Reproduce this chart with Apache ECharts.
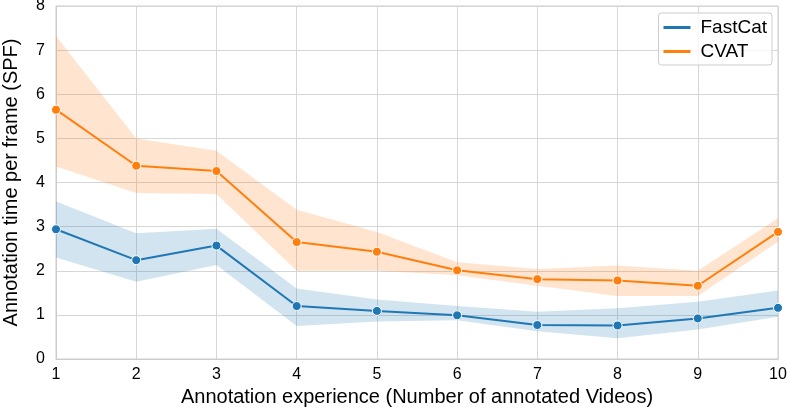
<!DOCTYPE html>
<html>
<head>
<meta charset="utf-8">
<script src="https://cdn.jsdelivr.net/npm/echarts@6/dist/echarts.min.js"></script>
<style>
html,body{margin:0;padding:0;background:#fff;}
#chart{width:787px;height:416px;}
</style>
</head>
<body>
<div id="chart"></div>
<script>
const categories = ['1','2','3','4','5','6','7','8','9','10'];
const yTicks = [0,1,2,3,4,5,6,7,8];

const fastCatMean = [2.94, 2.24, 2.57, 1.20, 1.09, 0.99, 0.77, 0.76, 0.92, 1.16];
const fastCatLow  = [2.30, 1.75, 2.13, 0.75, 0.85, 0.88, 0.63, 0.47, 0.67, 0.96];
const fastCatHigh = [3.57, 2.85, 2.95, 1.60, 1.35, 1.20, 1.07, 1.15, 1.30, 1.55];

const cvatMean = [5.65, 4.38, 4.26, 2.65, 2.43, 2.01, 1.81, 1.78, 1.66, 2.88];
const cvatLow  = [4.36, 3.76, 3.74, 2.00, 2.00, 1.90, 1.66, 1.43, 1.43, 2.66];
const cvatHigh = [7.32, 5.00, 4.72, 3.38, 2.88, 2.19, 2.04, 2.12, 2.00, 3.19];

const BLUE = '#1f77b4', ORANGE = '#ff7f0e';
const FONT = 'Liberation Sans, Arial, sans-serif';

function diff(hi, lo){ return hi.map((v,i)=>+(v-lo[i]).toFixed(4)); }

function bandSeries(stackName, low, high, color){
  return [
    {type:'line', stack:stackName, data:low, symbol:'none', silent:true,
     lineStyle:{opacity:0}, areaStyle:{opacity:0}, z:1},
    {type:'line', stack:stackName, data:diff(high, low), symbol:'none', silent:true,
     lineStyle:{opacity:0}, areaStyle:{color:color, opacity:0.2}, z:1}
  ];
}

function meanSeries(name, data, color){
  return {
    name:name, type:'line', data:data, z:5,
    symbol:'circle', symbolSize:9, showSymbol:true,
    lineStyle:{color:color, width:2},
    itemStyle:{color:color, borderColor:'#fff', borderWidth:1},
  };
}

const chart = echarts.init(document.getElementById('chart'), null, {renderer:'canvas'});
chart.setOption({
  animation:false,
  backgroundColor:'#fff',
  textStyle:{fontFamily:FONT},
  grid:{left:56, right:9, top:6, bottom:57, containLabel:false, outerBoundsMode:'none',
        show:true, borderColor:'#cccccc', borderWidth:1},
  legend:{
    data:[
      {name:'FastCat', itemStyle:{color:BLUE, borderWidth:0}},
      {name:'CVAT', itemStyle:{color:ORANGE, borderWidth:0}}
    ],
    orient:'vertical', right:15, top:13,
    icon:'rect', itemWidth:27, itemHeight:3, itemGap:5,
    padding:[5,5,4,5],
    itemStyle:{borderWidth:0},
    backgroundColor:'rgba(255,255,255,0.8)', borderColor:'#cccccc', borderWidth:1, borderRadius:3,
    textStyle:{fontSize:19, color:'#000', fontFamily:FONT, padding:[0,0,0,5]}
  },
  xAxis:{
    type:'category', data:categories, boundaryGap:false,
    name:'Annotation experience (Number of annotated Videos)', nameLocation:'middle', nameGap:21,
    nameTextStyle:{fontSize:20, color:'#000', fontFamily:FONT},
    axisLine:{show:true, lineStyle:{color:'#cccccc'}},
    axisTick:{show:false},
    axisLabel:{fontSize:16, color:'#000', margin:8, fontFamily:FONT},
    splitLine:{show:true, lineStyle:{color:'#d6d6d6', width:1}}
  },
  yAxis:{
    type:'value', min:0, max:8, interval:1,
    name:'Annotation time per frame (SPF)', nameLocation:'middle', nameGap:35, nameRotate:90,
    nameTextStyle:{fontSize:20, color:'#000', fontFamily:FONT},
    axisLine:{show:true, lineStyle:{color:'#cccccc'}},
    axisTick:{show:false},
    axisLabel:{fontSize:16, color:'#000', margin:11, fontFamily:FONT,
      formatter:(v)=> yTicks.includes(v) ? String(v) : ''},
    splitLine:{show:true, lineStyle:{color:'#d6d6d6', width:1}}
  },
  series:[
    ...bandSeries('fastBand', fastCatLow, fastCatHigh, BLUE),
    ...bandSeries('cvatBand', cvatLow, cvatHigh, ORANGE),
    meanSeries('FastCat', fastCatMean, BLUE),
    meanSeries('CVAT', cvatMean, ORANGE)
  ]
});
</script>
</body>
</html>
